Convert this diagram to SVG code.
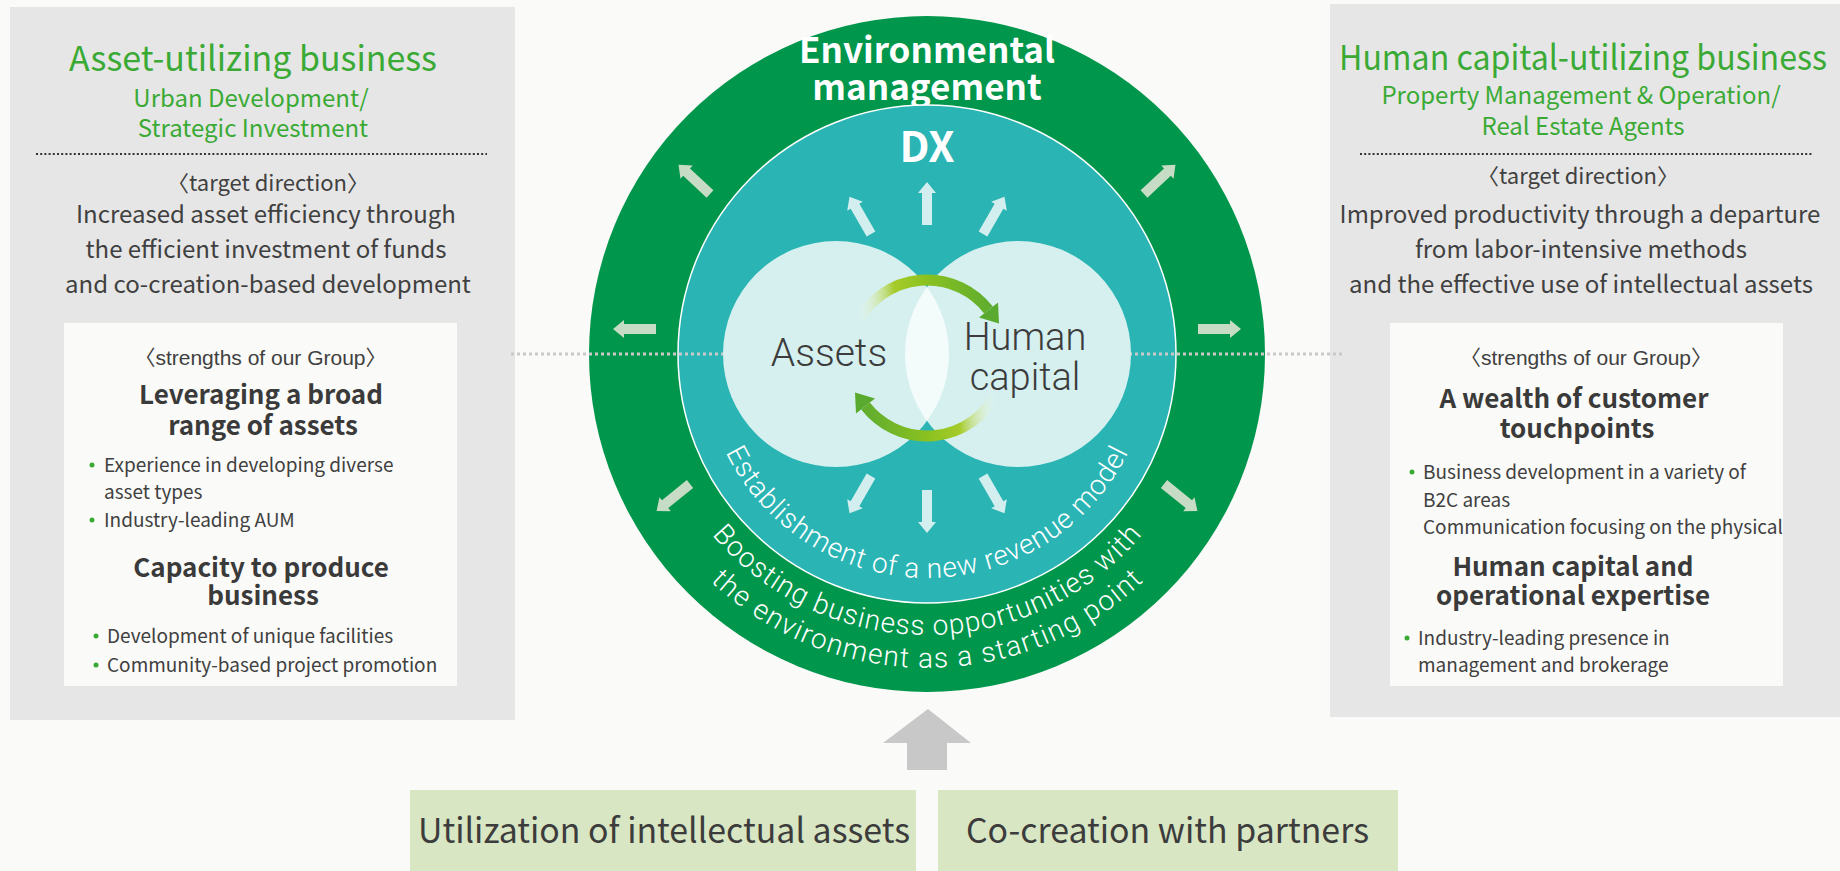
<svg xmlns="http://www.w3.org/2000/svg" width="1840" height="871" viewBox="0 0 1840 871">
<style>
.jp{font-family:'Noto Sans CJK JP','Noto Sans',sans-serif;}
.gt{fill:#3aaa35;}
.body{fill:#404040;}
.ttl{font-size:34px;}
.sub{font-size:24px;}
.tgt{font-size:22px;}
.txt{font-size:24px;}
.str{font-family:'Liberation Sans','Noto Sans CJK JP',sans-serif;font-size:21px;fill:#404040;}
.bold{font-size:26px;font-weight:bold;fill:#3a3a3a;}
.bul{font-size:19px;fill:#404040;}
.dot{fill:#3aaa35;}
.rob{font-family:Roboto,'Liberation Sans',sans-serif;font-weight:300;}
.arcT{font-family:Roboto,'Liberation Sans',sans-serif;font-weight:300;fill:#ffffff;font-size:28px;}
.oarr{fill:#c7dcc4;}
.iarr{fill:#d3eeee;}
</style>
<defs>
<path id="arr" d="M0,-5 H32 V-9 L43,0 L32,9 V5 H0 Z"/>
<linearGradient id="cg" gradientUnits="userSpaceOnUse" x1="858" y1="330" x2="999" y2="318">
<stop offset="0" stop-color="#ffffff" stop-opacity="0"/>
<stop offset="0.28" stop-color="#a5cb2a"/>
<stop offset="0.5" stop-color="#8cc220"/>
<stop offset="1" stop-color="#5aaa30"/>
</linearGradient>
<clipPath id="lc"><circle cx="836" cy="354" r="113"/></clipPath>
<path id="p1" d="M703,354 A224,224 0 0 0 1151,354"/>
<path id="p2" d="M646,354 A281,281 0 0 0 1208,354"/>
<path id="p3" d="M613,354 A314,314 0 0 0 1241,354"/>
</defs>
<rect x="0" y="0" width="1840" height="871" fill="#fafaf8"/>

<g id="left-panel">
<rect x="10" y="7" width="505" height="713" fill="#e6e6e6"/>
<text class="jp gt ttl" x="253" y="71" text-anchor="middle" textLength="368" lengthAdjust="spacingAndGlyphs">Asset-utilizing business</text>
<text class="jp gt sub" x="251" y="107" text-anchor="middle">Urban Development/</text>
<text class="jp gt sub" x="253" y="137" text-anchor="middle">Strategic Investment</text>
<line x1="36" y1="154" x2="487" y2="154" stroke="#333" stroke-width="2" stroke-dasharray="2 2.2"/>
<text class="jp body tgt" x="268" y="191" text-anchor="middle">〈target direction〉</text>
<text class="jp body txt" x="266" y="223" text-anchor="middle">Increased asset efficiency through</text>
<text class="jp body txt" x="266" y="258" text-anchor="middle">the efficient investment of funds</text>
<text class="jp body txt" x="268" y="293" text-anchor="middle">and co-creation-based development</text>
</g>

<g id="left-strengths">
<rect x="64" y="323" width="393" height="363" fill="#fafaf8"/>
<text class="str" x="260.5" y="365" text-anchor="middle">〈strengths of our Group〉</text>
<text class="jp bold" x="261" y="404" text-anchor="middle">Leveraging a broad</text>
<text class="jp bold" x="263" y="435" text-anchor="middle">range of assets</text>
<circle class="dot" cx="92" cy="465" r="2.5"/>
<text class="jp bul" x="104" y="472">Experience in developing diverse</text>
<text class="jp bul" x="104" y="499">asset types</text>
<circle class="dot" cx="92" cy="520" r="2.5"/>
<text class="jp bul" x="104" y="527">Industry-leading AUM</text>
<text class="jp bold" x="261" y="577" text-anchor="middle">Capacity to produce</text>
<text class="jp bold" x="263" y="605" text-anchor="middle">business</text>
<circle class="dot" cx="96" cy="636" r="2.5"/>
<text class="jp bul" x="107" y="643">Development of unique facilities</text>
<circle class="dot" cx="96" cy="665" r="2.5"/>
<text class="jp bul" x="107" y="672">Community-based project promotion</text>
</g>

<g id="right-panel">
<rect x="1330" y="4" width="510" height="713" fill="#e6e6e6"/>
<text class="jp gt ttl" x="1583" y="70" text-anchor="middle" textLength="488" lengthAdjust="spacingAndGlyphs">Human capital-utilizing business</text>
<text class="jp gt sub" x="1581" y="104" text-anchor="middle">Property Management &amp; Operation/</text>
<text class="jp gt sub" x="1583" y="135" text-anchor="middle">Real Estate Agents</text>
<line x1="1360" y1="154" x2="1812" y2="154" stroke="#333" stroke-width="2" stroke-dasharray="2 2.2"/>
<text class="jp body tgt" x="1578" y="184" text-anchor="middle">〈target direction〉</text>
<text class="jp body txt" x="1580" y="223" text-anchor="middle">Improved productivity through a departure</text>
<text class="jp body txt" x="1581" y="258" text-anchor="middle">from labor-intensive methods</text>
<text class="jp body txt" x="1581" y="293" text-anchor="middle">and the effective use of intellectual assets</text>
</g>

<g id="right-strengths">
<rect x="1390" y="323" width="393" height="363" fill="#fafaf8"/>
<text class="str" x="1586" y="365" text-anchor="middle">〈strengths of our Group〉</text>
<text class="jp bold" x="1574" y="408" text-anchor="middle">A wealth of customer</text>
<text class="jp bold" x="1577" y="438" text-anchor="middle">touchpoints</text>
<circle class="dot" cx="1412" cy="472" r="2.5"/>
<text class="jp bul" x="1423" y="479">Business development in a variety of</text>
<text class="jp bul" x="1423" y="507">B2C areas</text>
<text class="jp bul" x="1423" y="534">Communication focusing on the physical</text>
<text class="jp bold" x="1573" y="576" text-anchor="middle">Human capital and</text>
<text class="jp bold" x="1573" y="605" text-anchor="middle">operational expertise</text>
<circle class="dot" cx="1407" cy="638" r="2.5"/>
<text class="jp bul" x="1418" y="645">Industry-leading presence in</text>
<text class="jp bul" x="1418" y="672">management and brokerage</text>
</g>

<g id="environmental-management">
<circle cx="927" cy="354" r="338" fill="#00964b"/>
<text class="jp" x="927" y="63" text-anchor="middle" font-size="35" font-weight="bold" fill="#ffffff">Environmental</text>
<text class="jp" x="927" y="100" text-anchor="middle" font-size="35" font-weight="bold" fill="#ffffff">management</text>
<text class="arcT"><textPath href="#p2" startOffset="50%" text-anchor="middle" textLength="490" lengthAdjust="spacing">Boosting business opportunities with</textPath></text>
<text class="arcT"><textPath href="#p3" startOffset="50%" text-anchor="middle" textLength="478" lengthAdjust="spacing">the environment as a starting point</textPath></text>
</g>

<g id="dx">
<circle cx="927" cy="354" r="249" fill="#2ab5b4" stroke="#ffffff" stroke-width="1.5"/>
<text class="jp" x="927" y="162" text-anchor="middle" font-size="42" font-weight="bold" fill="#ffffff">DX</text>
<text class="arcT"><textPath href="#p1" startOffset="50%" text-anchor="middle" textLength="500" lengthAdjust="spacing">Establishment of a new revenue model</textPath></text>
</g>

<g id="connectors">
<line x1="511" y1="354" x2="1345" y2="354" stroke="#c9c9c9" stroke-width="3" stroke-dasharray="3 3"/>
<use href="#arr" class="oarr" transform="translate(656,329) rotate(180)"/>
<use href="#arr" class="oarr" transform="translate(1198,329)"/>
<use href="#arr" class="oarr" transform="translate(710,194) rotate(-137)"/>
<use href="#arr" class="oarr" transform="translate(1144,194) rotate(-43)"/>
<use href="#arr" class="oarr" transform="translate(690,484) rotate(141)"/>
<use href="#arr" class="oarr" transform="translate(1164,484) rotate(39)"/>
<use href="#arr" class="iarr" transform="translate(927,225) rotate(-90)"/>
<use href="#arr" class="iarr" transform="translate(871,234) rotate(-120)"/>
<use href="#arr" class="iarr" transform="translate(983,234) rotate(-60)"/>
<use href="#arr" class="iarr" transform="translate(927,490) rotate(90)"/>
<use href="#arr" class="iarr" transform="translate(871,476) rotate(120)"/>
<use href="#arr" class="iarr" transform="translate(983,476) rotate(60)"/>
<polygon points="928,709 883,743 907,743 907,770 947,770 947,743 971,743" fill="#c8c8c8"/>
</g>

<g id="assets">
<circle cx="836" cy="354" r="113" fill="#d5f0ef"/>
</g>
<g id="human-capital">
<circle cx="1018" cy="354" r="113" fill="#d5f0ef"/>
<circle cx="1018" cy="354" r="113" fill="#f4fbfb" clip-path="url(#lc)"/>
</g>

<g id="cycle">
<path d="M858.1,321.4 A78,78 0 0 1 988.5,310" fill="none" stroke="url(#cg)" stroke-width="11"/>
<polygon points="998,302.6 979,317.4 999,323.4" fill="#5aaa30"/>
<g transform="rotate(180 927 358)">
<path d="M858.1,321.4 A78,78 0 0 1 988.5,310" fill="none" stroke="url(#cg)" stroke-width="11"/>
<polygon points="998,302.6 979,317.4 999,323.4" fill="#5aaa30"/>
</g>
</g>

<g id="labels">
<text class="rob" x="829" y="366" text-anchor="middle" font-size="39" fill="#3c3c3c">Assets</text>
<text class="rob" x="1025" y="350" text-anchor="middle" font-size="38" fill="#3c3c3c">Human</text>
<text class="rob" x="1025" y="390" text-anchor="middle" font-size="38" fill="#3c3c3c">capital</text>
</g>

<g id="intellectual-assets">
<rect x="410" y="790" width="506" height="81" fill="#d8e6c3"/>
<text class="jp" x="418" y="843" font-size="34" fill="#3c3c3c" textLength="492" lengthAdjust="spacingAndGlyphs">Utilization of intellectual assets</text>
</g>
<g id="co-creation">
<rect x="938" y="790" width="460" height="81" fill="#d8e6c3"/>
<text class="jp" x="966" y="843" font-size="34" fill="#3c3c3c" textLength="403" lengthAdjust="spacingAndGlyphs">Co-creation with partners</text>
</g>
</svg>
